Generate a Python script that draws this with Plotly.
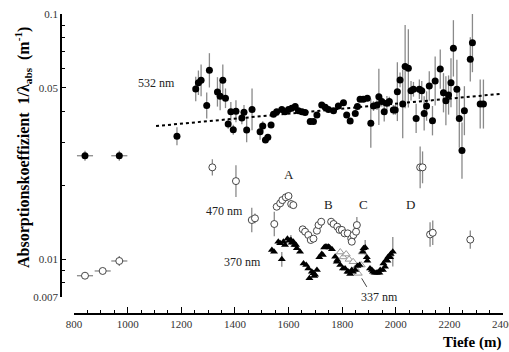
import plotly.graph_objects as go
import numpy as np

FONT = "Liberation Serif"

# ---- 532 nm (filled circles) ----
d532_early_x = [841, 969]
d532_early_y = [0.0264, 0.0264]
d532_early_xerr = [30, 30]
d532_early_dex = [0.02, 0.02]

d532_x = [1184, 1254, 1264, 1274, 1295, 1305, 1335, 1345, 1355, 1365, 1375, 1385, 1394, 1404,
          1426, 1434, 1444, 1464, 1494, 1504, 1514, 1523, 1535, 1544, 1556, 1575, 1587, 1600,
          1612, 1625, 1637, 1650, 1662, 1681, 1693, 1706, 1724, 1737, 1749, 1768, 1786, 1805,
          1817, 1830, 1849, 1857, 1867, 1879, 1894, 1907, 1917, 1930, 1937, 1948, 1957, 1967,
          1976, 1991, 1998, 2006, 2016, 2026, 2035, 2047, 2057, 2066, 2076, 2088, 2097, 2106,
          2115, 2125, 2137, 2147, 2166, 2178, 2187, 2197, 2206, 2215, 2228, 2237, 2247, 2256,
          2278, 2286, 2315, 2327]
d532_y = [0.0317, 0.0494, 0.0524, 0.0536, 0.0423, 0.0589, 0.0481, 0.0462, 0.0536, 0.0453, 0.0356,
          0.0399, 0.0337, 0.0401, 0.0376, 0.0397, 0.0336, 0.0408, 0.0331, 0.0349, 0.0306, 0.0314,
          0.0352, 0.0390, 0.0399, 0.0408, 0.0399, 0.0408, 0.0412, 0.0419, 0.0403, 0.0399, 0.0396,
          0.0364, 0.0364, 0.0387, 0.0425, 0.0416, 0.0408, 0.0403, 0.0421, 0.0434, 0.0387, 0.0366,
          0.0393, 0.0419, 0.0449, 0.0449, 0.0453, 0.0358, 0.0421, 0.0425, 0.0459, 0.0439, 0.0399,
          0.0432, 0.0439, 0.0406, 0.0406, 0.0482, 0.0538, 0.0429, 0.0610, 0.0600, 0.0486, 0.0493,
          0.0375, 0.0493, 0.0486, 0.0393, 0.0421, 0.0508, 0.0367, 0.0533, 0.0596, 0.0477, 0.0443,
          0.0467, 0.0524, 0.0724, 0.0493, 0.0375, 0.0277, 0.0403, 0.0653, 0.0763, 0.0429, 0.0429]
d532_dex = [0.037, 0.05, 0.05, 0.065, 0.053, 0.07, 0.06, 0.057, 0.065, 0.04, 0.02, 0.04, 0.02, 0.045,
            0.025, 0.03, 0.05, 0.085, 0.033, 0.02, 0.0, 0.0, 0.01, 0.0, 0.0, 0.0, 0.0, 0.0,
            0.0, 0.0, 0.0, 0.0, 0.0, 0.0, 0.0, 0.0, 0.0, 0.0, 0.0, 0.0, 0.0, 0.0,
            0.0, 0.0, 0.0, 0.0, 0.01, 0.01, 0.01, 0.10, 0.02, 0.02, 0.115, 0.02, 0.04, 0.03,
            0.02, 0.02, 0.02, 0.12, 0.03, 0.14, 0.17, 0.16, 0.04, 0.03, 0.06, 0.04, 0.04, 0.07,
            0.06, 0.06, 0.06, 0.10, 0.08, 0.08, 0.10, 0.08, 0.10, 0.115, 0.12, 0.12, 0.115, 0.10,
            0.09, 0.12, 0.10, 0.10]

# ---- 470 nm (open circles) ----
d470_early_x = [841, 907, 969]
d470_early_y = [0.00855, 0.00894, 0.00982]
d470_early_xerr = [30, 30, 30]
d470_early_dex = [0.0, 0.0, 0.02]

d470_x = [1316, 1404, 1463, 1475, 1547, 1556, 1569, 1577, 1590, 1600, 1610, 1618, 1653, 1662,
          1674, 1683, 1693, 1706, 1712, 1722, 1759, 1768, 1782, 1790, 1799, 1809, 1821, 1834,
          1836, 1842, 1852, 1855, 2091, 2100, 2128, 2138, 2278]
d470_y = [0.02367, 0.0208, 0.01443, 0.01466, 0.0139, 0.01635, 0.01688, 0.0174, 0.01786, 0.01808,
          0.01677, 0.0166, 0.01322, 0.01293, 0.01253, 0.01196, 0.01211, 0.01305, 0.01376, 0.0142,
          0.0142, 0.0139, 0.01355, 0.01315, 0.01315, 0.01273, 0.01273, 0.01211, 0.01177, 0.01253,
          0.01293, 0.01376, 0.02367, 0.02367, 0.0126, 0.0128, 0.0120]
d470_dex = [0.033, 0.065, 0.05, 0.02, 0.05, 0.0, 0.0, 0.0, 0.0, 0.0, 0.0, 0.0, 0.0, 0.0,
            0.0, 0.0, 0.0, 0.0, 0.0, 0.0, 0.0, 0.0, 0.0, 0.0, 0.0, 0.0, 0.0, 0.0,
            0.0, 0.0, 0.0, 0.033, 0.085, 0.065, 0.05, 0.05, 0.037]

# ---- 370 nm (filled triangles) ----
d370_x = [1538, 1546, 1562, 1569, 1575, 1581, 1587, 1596, 1603, 1609, 1612, 1618, 1622, 1628,
          1631, 1643, 1656, 1666, 1674, 1678, 1687, 1693, 1696, 1699, 1706, 1715, 1724, 1728,
          1733, 1737, 1743, 1749, 1753, 1762, 1774, 1780, 1782, 1793, 1803, 1811, 1820, 1824,
          1830, 1836, 1840, 1849, 1857, 1865, 1877, 1880, 1886, 1892, 1894, 1904, 1911, 1915,
          1921, 1927, 1932, 1939, 1942, 1952, 1954, 1960, 1964, 1969, 1972, 1979, 1981, 1989]
d370_y = [0.01088, 0.01071, 0.01177, 0.01159, 0.00997, 0.01177, 0.0114, 0.01211, 0.01188, 0.01196,
          0.01165, 0.01177, 0.0114, 0.0114, 0.01106, 0.01071, 0.0096, 0.00945, 0.00916, 0.00834,
          0.00888, 0.00874, 0.00853, 0.00862, 0.00902, 0.01016, 0.01048, 0.01038, 0.01115, 0.01122,
          0.01122, 0.01122, 0.01115, 0.01097, 0.01022, 0.00975, 0.00991, 0.00945, 0.00916, 0.00916,
          0.00888, 0.00888, 0.00869, 0.00902, 0.00888, 0.00902, 0.00936, 0.00945, 0.01071, 0.01106,
          0.01115, 0.01016, 0.00984, 0.00916, 0.00902, 0.00888, 0.00879, 0.00879, 0.00879, 0.00879,
          0.00902, 0.00902, 0.0096, 0.0093, 0.00991, 0.00984, 0.01022, 0.01016, 0.01048, 0.01071]
d370_dex = [0.0] * 4 + [0.03] + [0.0] * 4 + [0.02] + [0.0] * 40 + [0.03] + [0.0] * 18 + [0.06]

# ---- 337 nm (open grey triangles) ----
d337_x = [1793, 1804, 1815, 1826, 1841, 1849, 1860, 1871, 1875]
d337_y = [0.01068, 0.0102, 0.01048, 0.00997, 0.00975, 0.00916, 0.00874, 0.00945, 0.01068]

# ---- trend line (532 nm) ----
trend_x = [1106, 2390]
trend_y = [0.0349, 0.0472]

# ---- 337 nm pointer ----
ptr_x = [1873, 1892]
ptr_y = [0.00834, 0.0077]


def errs(y, dex):
    y = np.array(y, float)
    d = np.array(dex, float)
    return list(y * (10 ** d - 1)), list(y * (1 - 10 ** (-d)))


ERRC = "#8a8a8a"
fig = go.Figure()

up, dn = errs(d532_y, d532_dex)
fig.add_trace(go.Scatter(x=d532_x, y=d532_y, mode="markers",
                         marker=dict(symbol="circle", size=7, color="black"),
                         error_y=dict(type="data", symmetric=False, array=up, arrayminus=dn,
                                      color=ERRC, thickness=1.3, width=0)))
up, dn = errs(d532_early_y, d532_early_dex)
fig.add_trace(go.Scatter(x=d532_early_x, y=d532_early_y, mode="markers",
                         marker=dict(symbol="circle", size=7, color="black"),
                         error_x=dict(type="data", array=d532_early_xerr, color=ERRC, thickness=1.3, width=0),
                         error_y=dict(type="data", symmetric=False, array=up, arrayminus=dn,
                                      color=ERRC, thickness=1.3, width=0)))

up, dn = errs(d470_y, d470_dex)
fig.add_trace(go.Scatter(x=d470_x, y=d470_y, mode="markers",
                         marker=dict(symbol="circle", size=7, color="white",
                                     line=dict(color="#333", width=0.9)),
                         error_y=dict(type="data", symmetric=False, array=up, arrayminus=dn,
                                      color=ERRC, thickness=1.3, width=0)))
up, dn = errs(d470_early_y, d470_early_dex)
fig.add_trace(go.Scatter(x=d470_early_x, y=d470_early_y, mode="markers",
                         marker=dict(symbol="circle", size=7, color="white",
                                     line=dict(color="#333", width=0.9)),
                         error_x=dict(type="data", array=d470_early_xerr, color=ERRC, thickness=1.3, width=0),
                         error_y=dict(type="data", symmetric=False, array=up, arrayminus=dn,
                                      color=ERRC, thickness=1.3, width=0)))

fig.add_trace(go.Scatter(x=d337_x, y=d337_y, mode="markers",
                         marker=dict(symbol="triangle-up", size=7, color="white",
                                     line=dict(color="#9a9a9a", width=1))))

up, dn = errs(d370_y, d370_dex)
fig.add_trace(go.Scatter(x=d370_x, y=d370_y, mode="markers",
                         marker=dict(symbol="triangle-up", size=7, color="black"),
                         error_y=dict(type="data", symmetric=False, array=up, arrayminus=dn,
                                      color=ERRC, thickness=1.3, width=0)))

fig.add_trace(go.Scatter(x=trend_x, y=trend_y, mode="lines",
                         line=dict(color="black", width=2, dash="dot")))
fig.add_trace(go.Scatter(x=ptr_x, y=ptr_y, mode="lines",
                         line=dict(color="#444", width=1)))

W, H = 509, 352
ml, mr, mt, mb = 61, 6, 14, 38
pw, ph = W - ml - mr, H - mt - mb


def px(xp):
    return (xp - ml) / pw


def py(yp):
    return (H - mb - yp) / ph


fig.update_layout(
    width=W, height=H, showlegend=False,
    margin=dict(l=ml, r=mr, t=mt, b=mb, autoexpand=False),
    paper_bgcolor="white", plot_bgcolor="white",
    font=dict(family=FONT, size=11, color="#333"),
    xaxis=dict(range=[800, 2400], domain=[px(74), 1], anchor="free", position=0,
               automargin=False,
               showgrid=False, zeroline=False, showline=True, linecolor="black", linewidth=1.5,
               ticks="inside", ticklen=6, tickwidth=1, tickcolor="black",
               tickvals=[800, 1000, 1200, 1400, 1600, 1800, 2000, 2200, 2400],
               ticklabeloverflow="allow",
               minor=dict(ticks="inside", ticklen=3, tickwidth=1, tickcolor="black", dtick=50),
               tickfont=dict(family=FONT, size=11, color="#333")),
    yaxis=dict(type="log", range=[np.log10(0.007), -1], domain=[py(297), 1],
               anchor="free", position=0, automargin=False,
               showgrid=False, zeroline=False, showline=True, linecolor="black", linewidth=1.5,
               ticks="inside", ticklen=4, tickwidth=1, tickcolor="black",
               tickvals=[0.007, 0.01, 0.05, 0.1], ticktext=["0.007", "0.01", "0.05", "0.1"],
               minor=dict(ticks="inside", ticklen=3, tickwidth=1, tickcolor="black",
                          tickvals=[0.008, 0.009, 0.02, 0.03, 0.04, 0.06, 0.07, 0.08, 0.09]),
               tickfont=dict(family=FONT, size=11, color="#333")),
)

anns = [
    ("532 nm", 1109, np.log10(0.0523), 12),
    ("470 nm", 1360, np.log10(0.0157), 12),
    ("370 nm", 1428, np.log10(0.0097), 12),
    ("337 nm", 1938, np.log10(0.0070), 12),
    ("A", 1600, np.log10(0.0222), 13),
    ("B", 1749, np.log10(0.0167), 13),
    ("C", 1880, np.log10(0.0167), 13),
    ("D", 2054, np.log10(0.0167), 13),
]
for t, x, y, s in anns:
    fig.add_annotation(text=t, x=x, y=y, xref="x", yref="y", showarrow=False,
                       font=dict(family=FONT, size=s, color="#222"))

fig.add_annotation(text="<b>Absorptionskoeffizient  1/λ<sub>abs</sub>  (m<sup>-1</sup>)</b>",
                   xref="paper", yref="paper", x=px(23), y=py(148), textangle=-90,
                   xanchor="center", yanchor="middle",
                   showarrow=False, font=dict(family=FONT, size=16, color="black"))
fig.add_annotation(text="<b>Tiefe (m)</b>", xref="paper", yref="paper", x=1, y=py(342),
                   xanchor="right", yanchor="middle", showarrow=False,
                   font=dict(family=FONT, size=15, color="black"))

fig.write_html("out.html")
